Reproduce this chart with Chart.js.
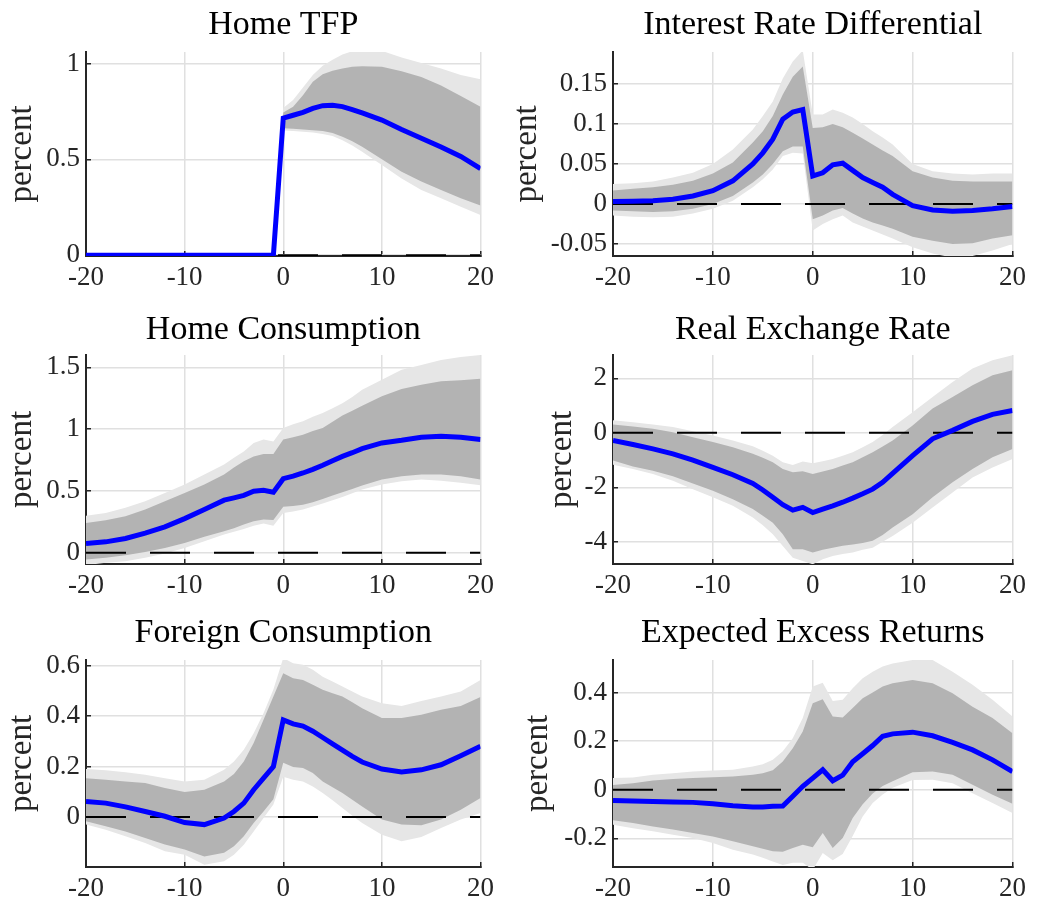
<!DOCTYPE html>
<html>
<head>
<meta charset="utf-8">
<script src="https://cdn.jsdelivr.net/npm/chart.js@4.4.1/dist/chart.umd.min.js"></script>
<style>
  body { margin: 0; background: #fff; }
  #wrap { position: relative; width: 1037px; height: 903px; }
  canvas { position: absolute; }
</style>
</head>
<body>
<div id="wrap"></div>
<script>
// horizonte (periodos) compartido por todos los paneles
const periods = [-20,-18,-16,-14,-12,-10,-8,-6,-5,-4,-3,-2,-1,0,1,2,3,4,5,6,7,8,10,12,14,16,18,20];
const xTicks = [-20, -10, 0, 10, 20];

// Home TFP
const tfpMed  = [0,0,0,0,0,0,0,0,0,0,0,0,0, 0.715,0.73,0.745,0.766,0.78,0.782,0.775,0.76,0.742,0.705,0.656,0.61,0.565,0.515,0.452];
const tfpInHi = [0,0,0,0,0,0,0,0,0,0,0,0,0, 0.745,0.774,0.835,0.905,0.944,0.962,0.974,0.983,0.986,0.983,0.96,0.93,0.885,0.83,0.775];
const tfpInLo = [0,0,0,0,0,0,0,0,0,0,0,0,0, 0.662,0.66,0.656,0.652,0.648,0.638,0.618,0.595,0.566,0.5,0.435,0.385,0.34,0.297,0.26];
const tfpOutHi = [0,0,0,0,0,0,0,0,0,0,0,0,0, 0.768,0.81,0.875,0.94,0.988,1.02,1.047,1.064,1.07,1.066,1.031,1.003,0.974,0.94,0.918];
const tfpOutLo = [0,0,0,0,0,0,0,0,0,0,0,0,0, 0.65,0.648,0.644,0.64,0.632,0.622,0.6,0.572,0.54,0.47,0.4,0.34,0.297,0.253,0.21];

// Interest Rate Differential
const irdMed  = [0.003,0.0035,0.004,0.006,0.01,0.0166,0.029,0.05,0.064,0.081,0.106,0.115,0.118, 0.035,0.039,0.049,0.051,0.042,0.033,0.027,0.021,0.012,-0.002,-0.0075,-0.009,-0.008,-0.006,-0.003];
const irdInHi = [0.017,0.019,0.021,0.024,0.029,0.038,0.052,0.077,0.091,0.11,0.137,0.159,0.172, 0.095,0.096,0.1,0.096,0.089,0.082,0.0745,0.067,0.06,0.041,0.033,0.029,0.028,0.028,0.028];
const irdInLo = [-0.008,-0.009,-0.01,-0.009,-0.006,0,0.01,0.027,0.037,0.05,0.066,0.072,0.072, -0.019,-0.0145,-0.008,-0.005,-0.012,-0.018,-0.023,-0.027,-0.031,-0.041,-0.046,-0.05,-0.049,-0.043,-0.039];
const irdOutHi = [0.025,0.026,0.028,0.033,0.039,0.05,0.068,0.093,0.11,0.128,0.157,0.178,0.192, 0.112,0.112,0.118,0.114,0.108,0.1,0.091,0.083,0.0745,0.05,0.041,0.038,0.037,0.038,0.038];
const irdOutLo = [-0.0145,-0.016,-0.0166,-0.016,-0.012,-0.006,0.004,0.021,0.031,0.043,0.06,0.064,0.063, -0.033,-0.025,-0.019,-0.0145,-0.023,-0.028,-0.033,-0.038,-0.043,-0.054,-0.062,-0.067,-0.065,-0.058,-0.05];

// Home Consumption
const hcMed  = [0.075,0.089,0.116,0.16,0.21,0.277,0.35,0.426,0.445,0.465,0.498,0.506,0.49, 0.6,0.62,0.646,0.675,0.708,0.745,0.78,0.81,0.843,0.889,0.91,0.935,0.943,0.935,0.916];
const hcInHi = [0.242,0.264,0.296,0.35,0.417,0.485,0.552,0.633,0.69,0.74,0.78,0.8,0.8, 0.916,0.935,0.956,0.985,1.01,1.06,1.11,1.15,1.19,1.266,1.325,1.36,1.387,1.395,1.408];
const hcInLo = [-0.054,-0.04,-0.02,0.008,0.04,0.08,0.13,0.175,0.2,0.229,0.256,0.27,0.265, 0.372,0.38,0.39,0.41,0.436,0.463,0.49,0.517,0.544,0.593,0.62,0.633,0.633,0.62,0.593];
const hcOutHi = [0.3,0.323,0.364,0.417,0.485,0.552,0.633,0.714,0.77,0.82,0.889,0.916,0.9, 1.01,1.04,1.064,1.1,1.13,1.17,1.21,1.26,1.32,1.4,1.48,1.52,1.56,1.584,1.6];
const hcOutLo = [-0.1,-0.08,-0.067,-0.04,-0.005,0.04,0.094,0.148,0.17,0.194,0.22,0.237,0.22, 0.323,0.335,0.35,0.375,0.4,0.426,0.452,0.482,0.512,0.552,0.58,0.593,0.584,0.566,0.547];

// Real Exchange Rate
const rerMed  = [-0.28,-0.43,-0.59,-0.77,-1.0,-1.27,-1.54,-1.86,-2.1,-2.37,-2.64,-2.84,-2.74, -2.93,-2.8,-2.68,-2.55,-2.4,-2.24,-2.07,-1.82,-1.49,-0.84,-0.22,0.09,0.42,0.68,0.82];
const rerInHi = [0.31,0.23,0.15,0.02,-0.16,-0.34,-0.53,-0.77,-0.92,-1.08,-1.33,-1.45,-1.41, -1.51,-1.42,-1.33,-1.2,-1.08,-0.9,-0.71,-0.5,-0.28,0.27,0.89,1.32,1.75,2.12,2.3];
const rerInLo = [-1.02,-1.24,-1.39,-1.6,-1.86,-2.13,-2.44,-2.8,-3.05,-3.3,-3.73,-4.28,-4.28, -4.4,-4.3,-4.22,-4.15,-4.1,-4.05,-3.97,-3.75,-3.48,-2.99,-2.37,-1.82,-1.33,-0.9,-0.59];
const rerOutHi = [0.46,0.39,0.31,0.21,0.06,-0.1,-0.28,-0.49,-0.66,-0.84,-1.08,-1.18,-1.05, -1.12,-1.04,-0.96,-0.84,-0.71,-0.53,-0.34,-0.08,0.21,0.76,1.32,1.87,2.36,2.67,2.85];
const rerOutLo = [-1.17,-1.33,-1.51,-1.76,-2.07,-2.37,-2.68,-3.11,-3.4,-3.73,-4.16,-4.59,-4.71, -4.83,-4.65,-4.53,-4.45,-4.4,-4.3,-4.22,-4.0,-3.79,-3.3,-2.74,-2.19,-1.64,-1.27,-0.96];

// Foreign Consumption
const fcMed  = [0.062,0.055,0.04,0.022,0.003,-0.022,-0.03,-0.004,0.022,0.055,0.108,0.154,0.2, 0.385,0.369,0.36,0.34,0.315,0.29,0.265,0.24,0.218,0.19,0.178,0.187,0.207,0.243,0.28];
const fcInHi = [0.154,0.148,0.141,0.135,0.115,0.099,0.108,0.141,0.17,0.22,0.293,0.385,0.477, 0.57,0.55,0.543,0.524,0.504,0.49,0.477,0.455,0.431,0.392,0.392,0.405,0.425,0.44,0.475];
const fcInLo = [-0.017,-0.037,-0.057,-0.083,-0.109,-0.129,-0.156,-0.142,-0.116,-0.076,-0.024,0.022,0.07, 0.215,0.198,0.194,0.174,0.141,0.118,0.095,0.068,0.042,-0.01,-0.03,-0.033,-0.01,0.029,0.075];
const fcOutHi = [0.19,0.185,0.177,0.167,0.154,0.141,0.148,0.187,0.22,0.266,0.332,0.411,0.505, 0.63,0.609,0.603,0.583,0.556,0.537,0.517,0.497,0.477,0.451,0.44,0.46,0.477,0.497,0.543];
const fcOutLo = [-0.03,-0.05,-0.076,-0.103,-0.136,-0.149,-0.189,-0.175,-0.149,-0.11,-0.057,-0.004,0.05, 0.16,0.148,0.141,0.121,0.095,0.066,0.036,0.005,-0.024,-0.07,-0.096,-0.079,-0.044,-0.01,0.016];

// Expected Excess Returns
const eerMed  = [-0.044,-0.046,-0.048,-0.05,-0.052,-0.058,-0.066,-0.071,-0.071,-0.068,-0.067,-0.027,0.014, 0.048,0.082,0.037,0.06,0.115,0.148,0.182,0.22,0.23,0.237,0.222,0.195,0.164,0.123,0.075];
const eerInHi = [0.02,0.027,0.038,0.044,0.048,0.051,0.055,0.062,0.068,0.08,0.116,0.171,0.24, 0.356,0.372,0.301,0.297,0.336,0.377,0.4,0.425,0.438,0.452,0.438,0.397,0.342,0.295,0.233];
const eerInLo = [-0.126,-0.137,-0.151,-0.164,-0.178,-0.192,-0.212,-0.233,-0.243,-0.253,-0.255,-0.24,-0.226, -0.237,-0.178,-0.24,-0.199,-0.116,-0.06,-0.015,0.015,0.035,0.072,0.075,0.062,0.021,-0.021,-0.058];
const eerOutHi = [0.048,0.05,0.062,0.068,0.075,0.079,0.082,0.096,0.105,0.123,0.158,0.212,0.295, 0.425,0.44,0.365,0.37,0.418,0.459,0.486,0.507,0.52,0.534,0.534,0.486,0.432,0.37,0.301];
const eerOutLo = [-0.144,-0.158,-0.171,-0.185,-0.199,-0.219,-0.247,-0.267,-0.28,-0.295,-0.31,-0.3,-0.3, -0.33,-0.26,-0.29,-0.265,-0.19,-0.11,-0.055,-0.02,0.008,0.04,0.041,0.027,-0.014,-0.055,-0.096];

// rangos y marcas del eje y
const tfpRange = [-0.004, 1.06],  tfpTicks = [0, 0.5, 1];
const irdRange = [-0.065, 0.19],  irdTicks = [-0.05, 0, 0.05, 0.1, 0.15];
const hcRange  = [-0.09, 1.6],    hcTicks  = [0, 0.5, 1, 1.5];
const rerRange = [-4.82, 2.86],   rerTicks = [-4, -2, 0, 2];
const fcRange  = [-0.198, 0.622], fcTicks  = [0, 0.2, 0.4, 0.6];
const eerRange = [-0.318, 0.534], eerTicks = [-0.2, 0, 0.2, 0.4];

const FONT = "'Liberation Serif', 'Times New Roman', serif";
const AXIS = '#262626';

function puntos(ys) {
    return periods.map((x, i) => ({ x: x, y: ys[i] }));
}

// cell = caja del canvas, area = caja del grafico (coordenadas de pagina)
function crearPanel(titulo, cell, area, ylabelX, titleY, yRange, yTicks, s) {
    const canvas = document.createElement('canvas');
    canvas.width = cell.w;
    canvas.height = cell.h;
    canvas.style.left = cell.x + 'px';
    canvas.style.top = cell.y + 'px';
    canvas.style.width = cell.w + 'px';
    canvas.style.height = cell.h + 'px';
    document.getElementById('wrap').appendChild(canvas);

    const titleSize = 34, labelSize = 33, tickSize = 27;
    const tlh = titleSize * 1.2, llh = labelSize * 1.2;

    new Chart(canvas.getContext('2d'), {
        type: 'line',
        data: {
            datasets: [
                { data: puntos(s.outHi), fill: '+1', backgroundColor: '#e6e6e6', borderWidth: 0, pointRadius: 0, order: 4 },
                { data: puntos(s.outLo), fill: false, borderWidth: 0, pointRadius: 0, order: 4 },
                { data: puntos(s.inHi), fill: '+1', backgroundColor: '#b3b3b3', borderWidth: 0, pointRadius: 0, order: 3 },
                { data: puntos(s.inLo), fill: false, borderWidth: 0, pointRadius: 0, order: 3 },
                { data: [{ x: xTicks[0], y: 0 }, { x: xTicks[xTicks.length - 1], y: 0 }],
                  borderColor: '#000', borderWidth: 2, borderDash: [40, 24], pointRadius: 0, fill: false, order: 1 },
                { data: puntos(s.med), borderColor: '#0000ff', borderWidth: 5, pointRadius: 0, fill: false, tension: 0, order: 0 }
            ]
        },
        options: {
            responsive: false,
            animation: false,
            events: [],
            layout: { padding: { left: 0, top: 0, bottom: 0, right: cell.x + cell.w - area.r } },
            plugins: {
                legend: { display: false },
                tooltip: { enabled: false },
                title: {
                    display: true,
                    text: titulo,
                    fullSize: false,
                    color: '#000',
                    font: { family: FONT, size: titleSize, weight: 'normal' },
                    padding: { top: titleY - cell.y - tlh / 2, bottom: area.t - titleY - tlh / 2 }
                }
            },
            scales: {
                x: {
                    type: 'linear',
                    min: xTicks[0],
                    max: xTicks[xTicks.length - 1],
                    afterBuildTicks: sc => { sc.ticks = xTicks.map(v => ({ value: v })); },
                    afterFit: sc => { sc.height = cell.y + cell.h - area.b; },
                    ticks: { color: AXIS, font: { family: FONT, size: tickSize }, padding: 11, maxRotation: 0,
                             callback: v => String(v) },
                    grid: { color: '#e0e0e0', lineWidth: 1.5, drawTicks: true, tickLength: -5, tickColor: AXIS, tickWidth: 1.5 },
                    border: { display: true, color: AXIS, width: 2 }
                },
                y: {
                    min: yRange[0],
                    max: yRange[1],
                    afterBuildTicks: sc => { sc.ticks = yTicks.map(v => ({ value: v })); },
                    afterFit: sc => { sc.width = area.l - cell.x; },
                    ticks: { color: AXIS, font: { family: FONT, size: tickSize }, padding: 11,
                             callback: v => String(v) },
                    grid: { color: '#e0e0e0', lineWidth: 1.5, drawTicks: true, tickLength: -5, tickColor: AXIS, tickWidth: 1.5 },
                    border: { display: true, color: AXIS, width: 2 },
                    title: {
                        display: true,
                        text: 'percent',
                        color: AXIS,
                        font: { family: FONT, size: labelSize },
                        padding: { top: ylabelX - cell.x - llh / 2, bottom: 0 }
                    }
                }
            }
        }
    });
}

const colL = { x: 0, w: 505 }, colR = { x: 505, w: 532 };
const rows = [{ y: 0, h: 300, t: 52, b: 256, ty: 25 },
              { y: 300, h: 300, t: 355, b: 564, ty: 330 },
              { y: 600, h: 303, t: 660, b: 867, ty: 633.5 }];

function celda(col, row) { return { x: col.x, w: col.w, y: row.y, h: row.h }; }
function areaL(row) { return { l: 86, r: 486, t: row.t, b: row.b }; }
function areaR(row) { return { l: 613, r: 1013, t: row.t, b: row.b }; }

crearPanel('Home TFP', celda(colL, rows[0]), areaL(rows[0]), 22, rows[0].ty, tfpRange, tfpTicks,
    { med: tfpMed, inHi: tfpInHi, inLo: tfpInLo, outHi: tfpOutHi, outLo: tfpOutLo });
crearPanel('Interest Rate Differential', celda(colR, rows[0]), areaR(rows[0]), 527, rows[0].ty, irdRange, irdTicks,
    { med: irdMed, inHi: irdInHi, inLo: irdInLo, outHi: irdOutHi, outLo: irdOutLo });
crearPanel('Home Consumption', celda(colL, rows[1]), areaL(rows[1]), 22, rows[1].ty, hcRange, hcTicks,
    { med: hcMed, inHi: hcInHi, inLo: hcInLo, outHi: hcOutHi, outLo: hcOutLo });
crearPanel('Real Exchange Rate', celda(colR, rows[1]), areaR(rows[1]), 562, rows[1].ty, rerRange, rerTicks,
    { med: rerMed, inHi: rerInHi, inLo: rerInLo, outHi: rerOutHi, outLo: rerOutLo });
crearPanel('Foreign Consumption', celda(colL, rows[2]), areaL(rows[2]), 22, rows[2].ty, fcRange, fcTicks,
    { med: fcMed, inHi: fcInHi, inLo: fcInLo, outHi: fcOutHi, outLo: fcOutLo });
crearPanel('Expected Excess Returns', celda(colR, rows[2]), areaR(rows[2]), 538, rows[2].ty, eerRange, eerTicks,
    { med: eerMed, inHi: eerInHi, inLo: eerInLo, outHi: eerOutHi, outLo: eerOutLo });
</script>
</body>
</html>
